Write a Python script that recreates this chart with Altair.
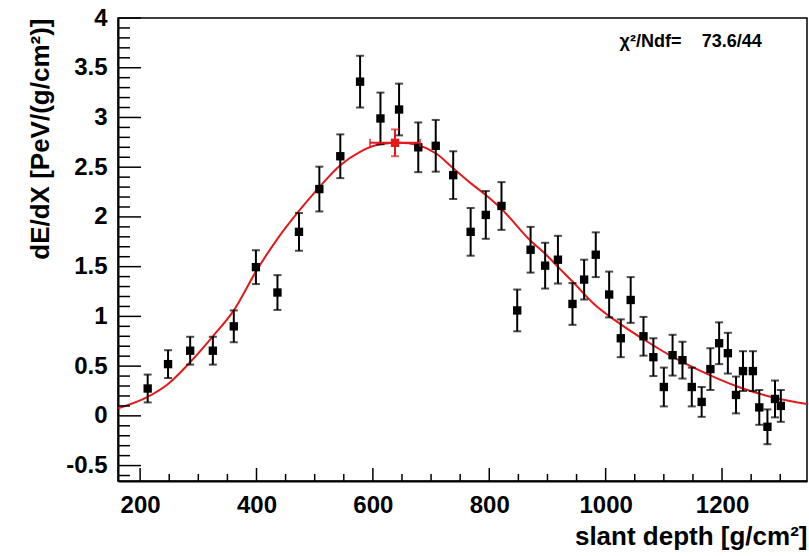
import altair as alt
import pandas as pd

# ---- data ----
depth = [213, 248, 286, 325, 361, 399, 436, 473, 508, 544, 578, 613, 645, 678, 708, 738,
         768, 794, 821, 848, 871, 896, 918, 943, 963, 983, 1006, 1026, 1043, 1065, 1082,
         1100, 1115, 1132, 1148, 1165, 1180, 1195, 1210, 1224, 1236, 1253, 1264, 1278, 1291, 1301]
dedx = [0.275, 0.52, 0.655, 0.655, 0.90, 1.495, 1.24, 1.85, 2.28, 2.61, 3.36, 2.99, 3.08, 2.70,
        2.715, 2.42, 1.85, 2.02, 2.11, 1.06, 1.67, 1.51, 1.57, 1.125, 1.37, 1.62, 1.22, 0.78,
        1.165, 0.80, 0.59, 0.29, 0.61, 0.56, 0.29, 0.14, 0.47, 0.73, 0.63, 0.21, 0.45, 0.45,
        0.085, -0.11, 0.17, 0.10]
err = [0.14, 0.14, 0.14, 0.14, 0.16, 0.17, 0.175, 0.19, 0.225, 0.22, 0.26, 0.26, 0.26, 0.25,
       0.26, 0.24, 0.24, 0.24, 0.24, 0.21, 0.23, 0.23, 0.24, 0.21, 0.20, 0.225, 0.23, 0.19,
       0.23, 0.195, 0.19, 0.195, 0.205, 0.185, 0.195, 0.15, 0.21, 0.21, 0.205, 0.185, 0.20,
       0.20, 0.175, 0.175, 0.185, 0.16]

# fitted curve
fit_x = [162, 213, 248, 286, 325, 361, 399, 436, 473, 508, 544, 578, 613, 645, 678, 708,
         738, 768, 794, 821, 871, 896, 921, 943, 979, 1026, 1065, 1116, 1162, 1231, 1288, 1346]
fit_y = [0.075, 0.19, 0.32, 0.54, 0.80, 1.06, 1.45, 1.78, 2.06, 2.30, 2.52, 2.655, 2.73, 2.745,
         2.72, 2.64, 2.49, 2.34, 2.22, 2.08, 1.76, 1.63, 1.48, 1.35, 1.13, 0.92, 0.77, 0.59,
         0.455, 0.285, 0.185, 0.12]

# fitted shower maximum
xmax_x = [638]
xmax_xerr = [43]
xmax_y = [2.745]
xmax_yerr = [0.135]

# annotation
note_x = [1024, 1165]
note_y = [3.76, 3.76]
note_text = ["χ²/Ndf=", "73.6/44"]

# axis ticks
x_major = [200, 400, 600, 800, 1000, 1200]
x_minor = [250, 300, 350, 450, 500, 550, 650, 700, 750, 850, 900, 950, 1050, 1100, 1150, 1250, 1300]
y_major = [-0.5, 0, 0.5, 1, 1.5, 2, 2.5, 3, 3.5, 4]
y_minor = [v for v in [round(-0.6 + 0.1 * i, 1) for i in range(47)] if v not in y_major]

FONT = "Liberation Sans"
RED = "#e3191c"
W, H = 689, 463

pts = pd.DataFrame({"x": depth, "y": dedx, "e": err})
pts["lo"] = pts["y"] - pts["e"]
pts["hi"] = pts["y"] + pts["e"]
fit = pd.DataFrame({"x": fit_x, "y": fit_y})
xm = pd.DataFrame({"x": xmax_x, "y": xmax_y, "xe": xmax_xerr, "ye": xmax_yerr})
xm["xlo"] = xm["x"] - xm["xe"]
xm["xhi"] = xm["x"] + xm["xe"]
xm["ylo"] = xm["y"] - xm["ye"]
xm["yhi"] = xm["y"] + xm["ye"]
notes = pd.DataFrame({"x": note_x, "y": note_y, "t": note_text})

xs = alt.Scale(domain=[162, 1346], nice=False, zero=False)
ys = alt.Scale(domain=[-0.655, 4.0], nice=False, zero=False)

xaxis = alt.Axis(values=x_major, format="d", title="slant depth [g/cm²]",
                 labelFont=FONT, labelFontWeight="bold", labelFontSize=24, labelColor="black",
                 labelPadding=12, labelFlush=False,
                 ticks=False, tickSize=0, grid=False,
                 domainColor="black", domainWidth=2,
                 titleFont=FONT, titleFontWeight="bold", titleFontSize=26, titleColor="black",
                 titleAnchor="end", titlePadding=6)
yaxis = alt.Axis(values=y_major, labelExpr="'' + datum.value", title="dE/dX [PeV/(g/cm²)]",
                 labelFont=FONT, labelFontWeight="bold", labelFontSize=24, labelColor="black",
                 labelPadding=11, labelFlush=False,
                 ticks=False, tickSize=0, grid=False,
                 domainColor="black", domainWidth=2,
                 titleFont=FONT, titleFontWeight="bold", titleFontSize=26, titleColor="black",
                 titleAnchor="end", titlePadding=12)


def X(f):
    return alt.X(f, type="quantitative", scale=xs, axis=xaxis)


def Y(f):
    return alt.Y(f, type="quantitative", scale=ys, axis=yaxis)


curve = alt.Chart(fit).mark_line(color=RED, strokeWidth=2, interpolate="monotone").encode(
    x=X("x"), y=Y("y"))

bars = alt.Chart(pts).mark_rule(color="black", strokeWidth=2).encode(
    x=X("x"), y=Y("lo"), y2="hi")
cap_lo = alt.Chart(pts).mark_tick(color="black", orient="horizontal", size=8, thickness=2).encode(
    x=X("x"), y=Y("lo"))
cap_hi = alt.Chart(pts).mark_tick(color="black", orient="horizontal", size=8, thickness=2).encode(
    x=X("x"), y=Y("hi"))
squares = alt.Chart(pts).mark_square(color="black", size=70, opacity=1).encode(
    x=X("x"), y=Y("y"))

xm_h = alt.Chart(xm).mark_rule(color=RED, strokeWidth=2).encode(x=X("xlo"), x2="xhi", y=Y("y"))
xm_v = alt.Chart(xm).mark_rule(color=RED, strokeWidth=2).encode(x=X("x"), y=Y("ylo"), y2="yhi")
xm_c1 = alt.Chart(xm).mark_tick(color=RED, orient="vertical", size=8, thickness=2).encode(x=X("xlo"), y=Y("y"))
xm_c2 = alt.Chart(xm).mark_tick(color=RED, orient="vertical", size=8, thickness=2).encode(x=X("xhi"), y=Y("y"))
xm_c3 = alt.Chart(xm).mark_tick(color=RED, orient="horizontal", size=8, thickness=2).encode(x=X("x"), y=Y("ylo"))
xm_c4 = alt.Chart(xm).mark_tick(color=RED, orient="horizontal", size=8, thickness=2).encode(x=X("x"), y=Y("yhi"))
xm_sq = alt.Chart(xm).mark_square(color=RED, size=70, opacity=1).encode(x=X("x"), y=Y("y"))

xt_major = alt.Chart(pd.DataFrame({"v": x_major})).mark_rule(color="black", strokeWidth=1.5).encode(
    x=X("v"), y=alt.value(H), y2=alt.value(H - 13))
xt_minor = alt.Chart(pd.DataFrame({"v": x_minor})).mark_rule(color="black", strokeWidth=1.5).encode(
    x=X("v"), y=alt.value(H), y2=alt.value(H - 7))
yt_major = alt.Chart(pd.DataFrame({"v": y_major})).mark_rule(color="black", strokeWidth=1.5).encode(
    y=Y("v"), x=alt.value(0), x2=alt.value(23))
yt_minor = alt.Chart(pd.DataFrame({"v": y_minor})).mark_rule(color="black", strokeWidth=1.5).encode(
    y=Y("v"), x=alt.value(0), x2=alt.value(12))

note = alt.Chart(notes).mark_text(align="left", baseline="middle", font=FONT, fontWeight="bold",
                                  fontSize=18, color="black").encode(
    x=X("x"), y=Y("y"), text="t:N")

chart = alt.layer(
    curve, bars, cap_lo, cap_hi, squares,
    xm_h, xm_v, xm_c1, xm_c2, xm_c3, xm_c4, xm_sq,
    xt_major, xt_minor, yt_major, yt_minor, note
).properties(
    width=W, height=H,
    autosize=alt.AutoSizeParams(type="none"),
    padding={"left": 118, "top": 18, "right": 2, "bottom": 75},
    background="white",
).configure_view(stroke="black", strokeWidth=1.5)

chart.save("out.html", embed_options={"renderer": "svg", "actions": False})
